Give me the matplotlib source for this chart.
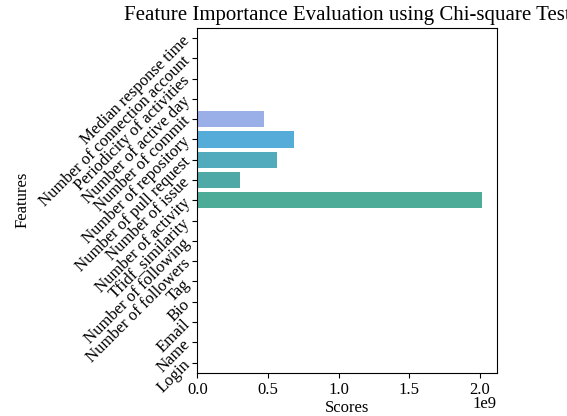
import numpy as np
import matplotlib
matplotlib.use('Agg')
import matplotlib.pyplot as plt
import seaborn as sns

# feature names, bottom to top
features = ['Login', 'Name', 'Email', 'Bio', 'Tag', 'Number of followers',
            'Number of following', 'Tfidf_similarity', 'Number of activity',
            'Number of issue', 'Number of pull request', 'Number of repository',
            'Number of commit', 'Number of active day', 'Periodicity of activities',
            'Number of connection account', 'Median response time']
scores = [0, 0, 0, 0, 0, 0, 0, 0, 2.019e9, 0.305e9, 0.565e9, 0.688e9,
          0.473e9, 0, 0, 0, 0]

plt.rcParams['font.family'] = ['Liberation Serif', 'DejaVu Serif']

fig = plt.figure(figsize=(5.67, 4.16), dpi=100)
ax = fig.add_axes([0.348, 0.104, 0.528, 0.829])

# husl palette, the visible bars matched to the picture
colors = [matplotlib.colors.to_hex(c) for c in sns.color_palette('husl', len(features))]
colors[8:13] = ['#4dac98', '#4faaa7', '#52abbc', '#55acd8', '#9aaee8']

y = np.arange(len(features))
ax.barh(y, scores, height=0.8, color=colors)
ax.set_ylim(-0.5, len(features) - 0.5)
ax.set_yticks(y)
ax.set_yticklabels(features, rotation=45, fontsize=12,
                   rotation_mode='anchor', ha='right', va='center')
ax.tick_params(axis='x', labelsize=12)
ax.set_xlabel('Scores', fontsize=12, labelpad=1)
ax.set_ylabel('Features', fontsize=12)
ax.xaxis.get_offset_text().set_fontsize(12)
ax.xaxis.OFFSETTEXTPAD = -1.5
ax.set_title('Feature Importance Evaluation using Chi-square Test', fontsize=15)

fig.savefig('out.png', dpi=100)
